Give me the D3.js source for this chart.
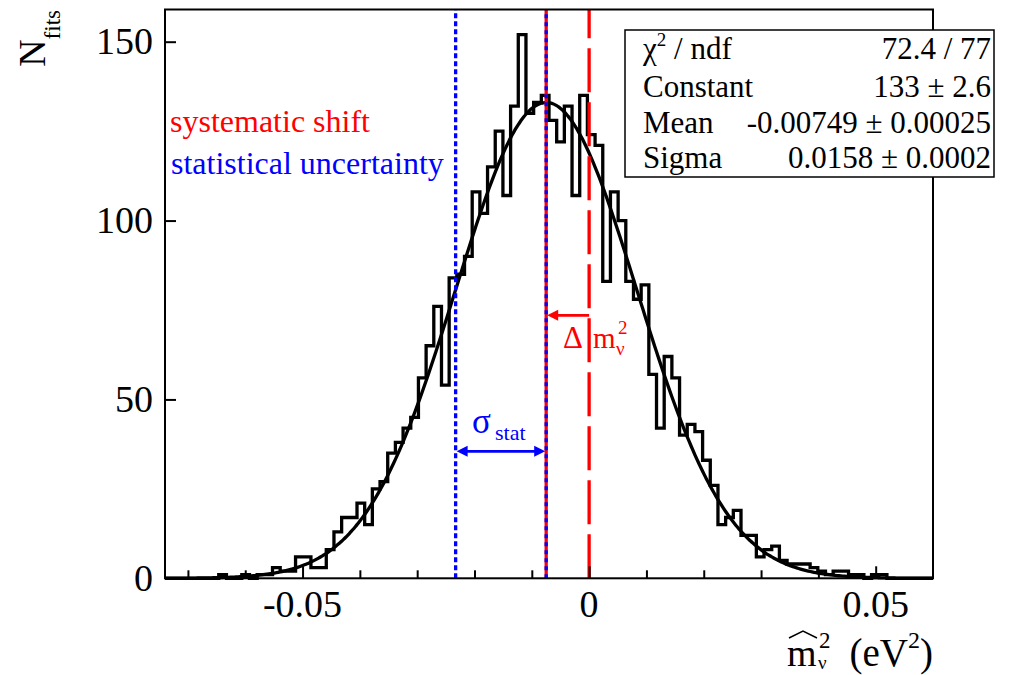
<!DOCTYPE html>
<html>
<head>
<meta charset="utf-8">
<script src="https://cdn.jsdelivr.net/npm/d3@7"></script>
<style>
  body { margin: 0; background: #ffffff; }
  svg { display: block; }
  text { font-family: "Liberation Serif", "Times New Roman", serif; }
</style>
</head>
<body>
<svg id="chart" width="1015" height="675"></svg>
<script>
// Histogram binning (100 equal bins)
const binLow = -0.074;
const binHigh = 0.06;

// Entries per bin, left to right
const counts = [
  0, 0, 0, 0, 0, 0, 0, 1, 0, 0,
  1, 0, 1, 1, 3, 2, 2, 6, 6, 3,
  3, 8, 13, 17, 17, 21, 15, 25, 27, 35,
  38, 42, 45, 56, 65, 76, 54, 84, 85, 90,
  108, 102, 115, 125, 107, 132, 152, 130, 133, 135,
  128, 122, 132, 107, 135, 124, 121, 83, 108, 100,
  83, 78, 82, 57, 42, 62, 56, 40, 43, 41,
  33, 26, 15, 17, 19, 12, 12, 6, 8, 9,
  5, 4, 4, 4, 3, 2, 1, 2, 2, 1,
  1, 0, 1, 1, 0, 0, 0, 0, 0, 0
];

// Gaussian fit result
const fitConstant = 133;
const fitMean = -0.00749;
const fitSigma = 0.0158;

// Axis ranges and ticks
const xRange = [-0.074, 0.06];
const yRange = [0, 159];
const xMajorTicks = [-0.05, 0, 0.05];
const xMinorTicks = [-0.07, -0.06, -0.04, -0.03, -0.02, -0.01, 0.01, 0.02, 0.03, 0.04];
const yTicks = [0, 50, 100, 150];
const xTickLabels = ["-0.05", "0", "0.05"];
const yTickLabels = ["0", "50", "100", "150"];

// Annotation arrow heights (in counts)
const shiftArrowLevel = 73.5;
const statArrowLevel = 35.5;

// Fit statistics box rows
const statNames = ["Constant", "Mean", "Sigma"];
const statValues = ["133 \u00b1 2.6", "-0.00749 \u00b1 0.00025", "0.0158 \u00b1 0.0002"];
const chi2Value = "72.4 / 77";

const RED = "#ff0000";
const BLUE = "#0000ff";

const svg = d3.select("#chart");
const frame = { left: 165, right: 933, top: 9.5, bottom: 578.3 };

const x = d3.scaleLinear().domain(xRange).range([frame.left, frame.right]);
const y = d3.scaleLinear().domain(yRange).range([frame.bottom, frame.top]);

// ---- histogram outline ----
const nBins = counts.length;
const binWidth = (binHigh - binLow) / nBins;
const histPts = [];
counts.forEach((c, i) => {
  histPts.push([binLow + i * binWidth, c]);
  histPts.push([binLow + (i + 1) * binWidth, c]);
});
const line = d3.line().x(d => x(d[0])).y(d => y(d[1]));

svg.append("path")
  .attr("d", line(histPts))
  .attr("fill", "none")
  .attr("stroke", "#000")
  .attr("stroke-width", 3.3)
  .attr("stroke-linejoin", "miter");

// ---- Gaussian fit curve ----
const gauss = v => fitConstant * Math.exp(-0.5 * Math.pow((v - fitMean) / fitSigma, 2));
const curvePts = d3.range(0, 401).map(i => {
  const v = xRange[0] + (xRange[1] - xRange[0]) * i / 400;
  return [v, gauss(v)];
});
svg.append("path")
  .attr("d", d3.line().x(d => x(d[0])).y(d => y(d[1])).curve(d3.curveMonotoneX)(curvePts))
  .attr("fill", "none")
  .attr("stroke", "#000")
  .attr("stroke-width", 3.3);

// ---- vertical marker lines ----
function vline(v, color, dash) {
  svg.append("line")
    .attr("x1", x(v)).attr("x2", x(v))
    .attr("y1", y(yRange[0])).attr("y2", y(yRange[1]))
    .attr("stroke", color)
    .attr("stroke-width", 3.3)
    .attr("stroke-dasharray", dash || null);
}
vline(fitMean - fitSigma, BLUE, "5,3");
vline(fitMean, RED, null);
vline(fitMean, BLUE, "4,4");
vline(0, RED, "44,10");

// ---- arrows ----
function arrowHead(xTip, yc, dir, color) {
  const len = 11, half = 5.5;
  svg.append("path")
    .attr("d", `M${xTip},${yc} L${xTip + dir * len},${yc - half} L${xTip + dir * len},${yc + half} Z`)
    .attr("fill", color);
}
// systematic shift: from 0 to the fitted mean
{
  const yc = y(shiftArrowLevel);
  svg.append("line")
    .attr("x1", x(0)).attr("x2", x(fitMean) + 6)
    .attr("y1", yc).attr("y2", yc)
    .attr("stroke", RED).attr("stroke-width", 2.7);
  arrowHead(x(fitMean) + 1, yc, 1, RED);
}
// statistical uncertainty: one sigma, both ends
{
  const yc = y(statArrowLevel);
  const x1 = x(fitMean - fitSigma), x2 = x(fitMean);
  svg.append("line")
    .attr("x1", x1 + 6).attr("x2", x2 - 6)
    .attr("y1", yc).attr("y2", yc)
    .attr("stroke", BLUE).attr("stroke-width", 2.7);
  arrowHead(x1 + 1, yc, 1, BLUE);
  arrowHead(x2 - 1, yc, -1, BLUE);
}

// ---- annotation labels ----
svg.append("text").attr("x", 170).attr("y", 132)
  .attr("font-size", 32).attr("fill", RED).text("systematic shift");
svg.append("text").attr("x", 171).attr("y", 174)
  .attr("font-size", 32).attr("fill", BLUE).text("statistical uncertainty");

// Δ m²_ν
svg.append("text").attr("x", 563).attr("y", 348)
  .attr("font-size", 31).attr("fill", RED).text("\u0394");
svg.append("text").attr("x", 593).attr("y", 348)
  .attr("font-size", 29).attr("fill", RED).text("m");
svg.append("text").attr("x", 618).attr("y", 334)
  .attr("font-size", 19).attr("fill", RED).text("2");
svg.append("text").attr("x", 616).attr("y", 355)
  .attr("font-size", 19).attr("fill", RED).text("\u03bd");

// σ_stat
svg.append("text").attr("x", 472).attr("y", 433)
  .attr("font-size", 35).attr("fill", BLUE).text("\u03c3");
svg.append("text").attr("x", 495).attr("y", 440)
  .attr("font-size", 22).attr("fill", BLUE).text("stat");

// ---- frame and axes ----
svg.append("rect")
  .attr("x", frame.left).attr("y", frame.top)
  .attr("width", frame.right - frame.left).attr("height", frame.bottom - frame.top)
  .attr("fill", "none").attr("stroke", "#000").attr("stroke-width", 2);

const xAxisMajor = d3.axisTop(x).tickValues(xMajorTicks).tickSize(12).tickFormat("");
const xAxisMinor = d3.axisTop(x).tickValues(xMinorTicks).tickSize(8).tickFormat("");
[xAxisMajor, xAxisMinor].forEach(ax => {
  const g = svg.append("g").attr("transform", `translate(0,${frame.bottom})`).call(ax);
  g.select(".domain").remove();
  g.selectAll("line").attr("stroke", "#000").attr("stroke-width", 2);
});
const yAxis = d3.axisRight(y).tickValues(yTicks).tickSize(11).tickFormat("");
{
  const g = svg.append("g").attr("transform", `translate(${frame.left},0)`).call(yAxis);
  g.select(".domain").remove();
  g.selectAll("line").attr("stroke", "#000").attr("stroke-width", 2);
}

// tick labels
svg.selectAll(".xlab").data(xMajorTicks).enter().append("text")
  .attr("class", "xlab")
  .attr("x", d => x(d)).attr("y", 617)
  .attr("text-anchor", "middle").attr("font-size", 38).attr("fill", "#000")
  .text((d, i) => xTickLabels[i]);
svg.selectAll(".ylab").data(yTicks).enter().append("text")
  .attr("class", "ylab")
  .attr("x", 153).attr("y", d => y(d) + 12.5)
  .attr("text-anchor", "end").attr("font-size", 38).attr("fill", "#000")
  .text((d, i) => yTickLabels[i]);

// axis titles
{
  const t = svg.append("text")
    .attr("transform", "translate(45,10) rotate(-90)")
    .attr("text-anchor", "end").attr("font-size", 38).attr("fill", "#000");
  t.append("tspan").text("N");
  t.append("tspan").attr("font-size", 23).attr("dy", 15).text("fits");
}
{
  const g = svg.append("g");
  g.append("text").attr("x", 787).attr("y", 666).attr("font-size", 38).text("m");
  g.append("path").attr("d", "M789,638 L803,631 L817,638")
    .attr("fill", "none").attr("stroke", "#000").attr("stroke-width", 1.5);
  g.append("text").attr("x", 819).attr("y", 648).attr("font-size", 23).text("2");
  g.append("text").attr("x", 818).attr("y", 669).attr("font-size", 19).text("\u03bd");
  const t = g.append("text").attr("x", 933).attr("y", 666).attr("text-anchor", "end").attr("font-size", 39);
  t.append("tspan").text("(eV");
  t.append("tspan").attr("font-size", 24).attr("dy", -18).text("2");
  t.append("tspan").attr("dy", 18).text(")");
}

// ---- fit statistics box ----
const box = { x: 625, y: 30, w: 369, h: 147 };
svg.append("rect")
  .attr("x", box.x).attr("y", box.y).attr("width", box.w).attr("height", box.h)
  .attr("fill", "#fff").attr("stroke", "#000").attr("stroke-width", 1.5);

const rowBase = [59, 97, 133, 168];
{
  const t = svg.append("text").attr("x", 643).attr("y", rowBase[0]).attr("font-size", 31);
  t.append("tspan").text("\u03c7");
  t.append("tspan").attr("font-size", 19).attr("dy", -13).text("2");
  t.append("tspan").attr("dy", 13).text(" / ndf");
  svg.append("text").attr("x", 991).attr("y", rowBase[0]).attr("text-anchor", "end")
    .attr("font-size", 31).text(chi2Value);
}
statNames.forEach((name, i) => {
  svg.append("text").attr("x", 643).attr("y", rowBase[i + 1]).attr("font-size", 31).text(name);
  svg.append("text").attr("x", 991).attr("y", rowBase[i + 1]).attr("text-anchor", "end")
    .attr("font-size", 31).text(statValues[i]);
});
</script>
</body>
</html>
